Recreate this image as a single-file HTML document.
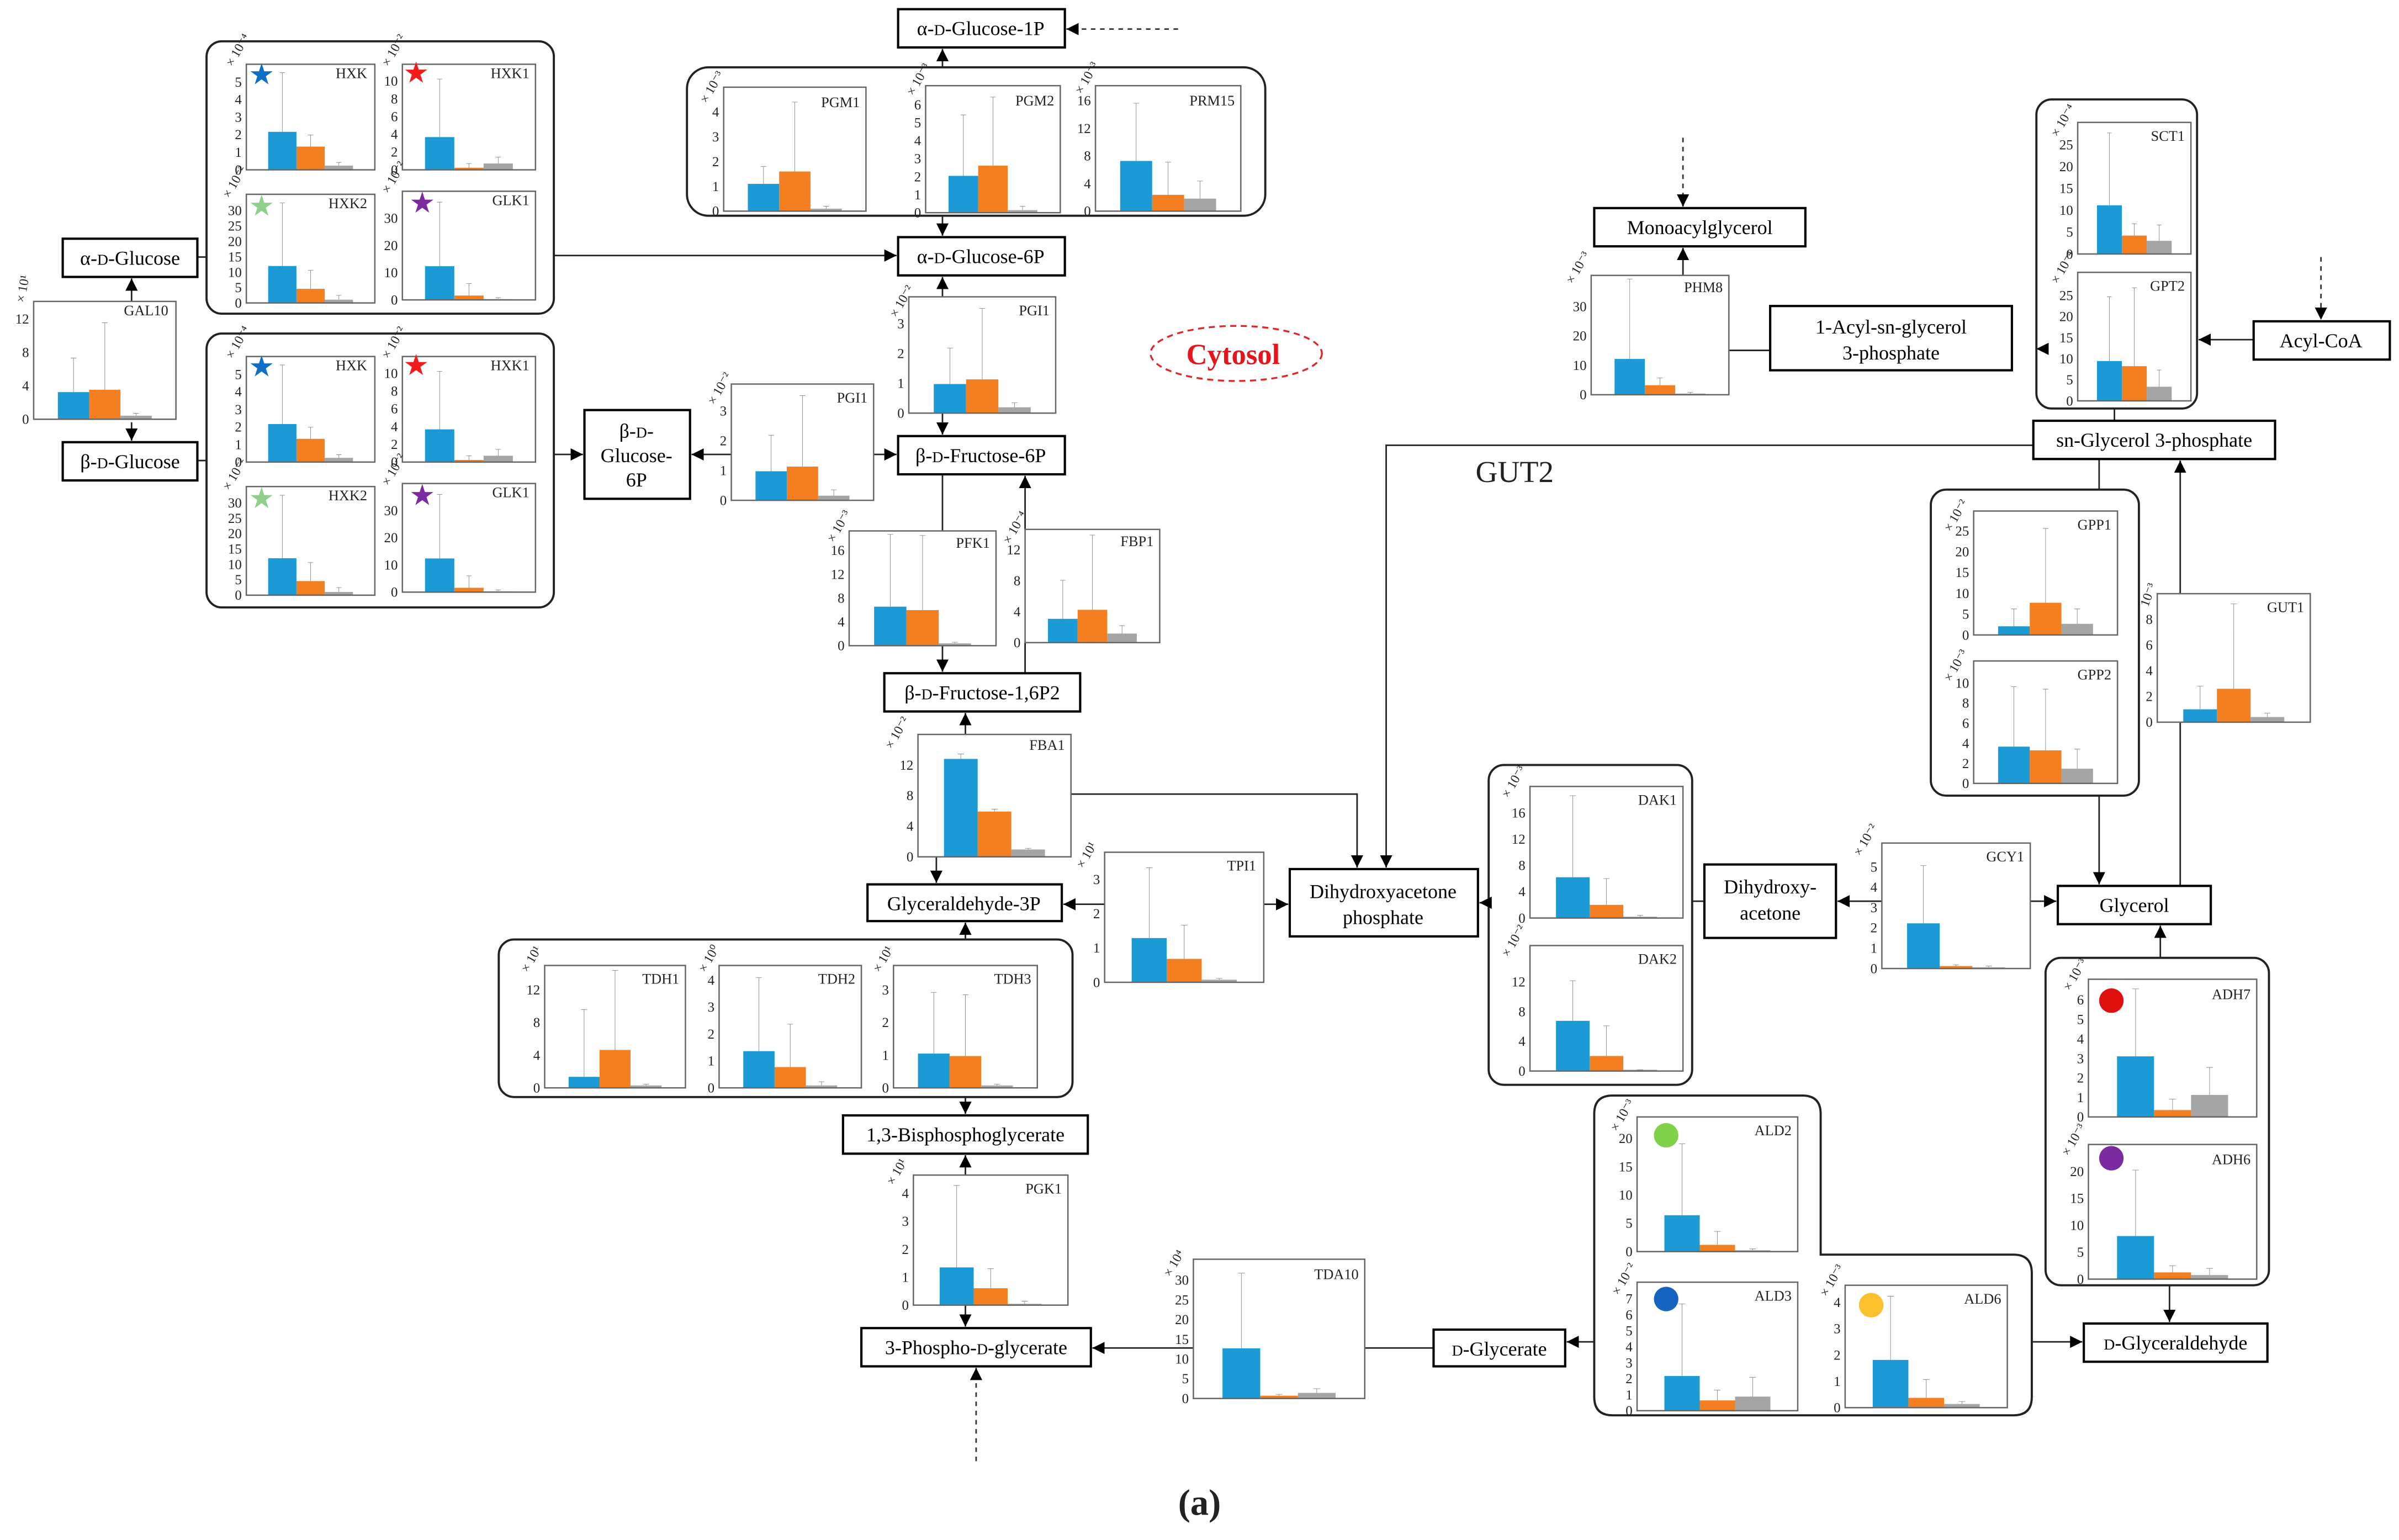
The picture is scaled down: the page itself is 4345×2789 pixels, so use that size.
<!DOCTYPE html>
<html><head><meta charset="utf-8"><style>
html,body{margin:0;padding:0;background:#fff}
svg{display:block}
text{font-family:"Liberation Serif","Times New Roman",serif;fill:#222}
.t{font-size:9px;text-anchor:end}
.n{font-size:9.5px;text-anchor:end}
.e{font-size:8.5px}
.bx{fill:#fff;stroke:#000;stroke-width:1.5}
.bt{font-family:"Liberation Serif","Times New Roman",serif;font-size:13px;text-anchor:middle;fill:#000}
.g{fill:none;stroke:#222;stroke-width:1.4}
.f{fill:none;stroke:#666;stroke-width:0.9}
.B{fill:#1c9ad6}.O{fill:#f47f20}.G{fill:#a5a5a5}
.er{stroke:#777;stroke-width:0.8;fill:none;vector-effect:non-scaling-stroke}
.l{stroke:#222;stroke-width:1;fill:none}
.d{stroke:#333;stroke-width:1;fill:none;stroke-dasharray:3,3}
</style></head><body>
<svg width="4345" height="2789" viewBox="0 0 1568 1006.5" preserveAspectRatio="none" xmlns="http://www.w3.org/2000/svg">
<defs><marker id="a" markerUnits="userSpaceOnUse" markerWidth="9" markerHeight="9" refX="8" refY="4.5" orient="auto"><path d="M0,0.5 L8,4.5 L0,8.5 Z" fill="#000"/></marker></defs>
<rect width="1568" height="1006.5" fill="#fff"/>

<rect class="g" x="135" y="27" width="227" height="178" rx="10"/>
<rect class="g" x="135" y="218" width="227" height="179" rx="10"/>
<rect class="g" x="449" y="44" width="378" height="97" rx="14"/>
<rect class="g" x="326" y="614" width="375" height="103" rx="10"/>
<rect class="g" x="973" y="500" width="133" height="209" rx="10"/>
<rect class="g" x="1262" y="320" width="136" height="200" rx="10"/>
<rect class="g" x="1331" y="65" width="105" height="202" rx="10"/>
<rect class="g" x="1337" y="626" width="146" height="214" rx="10"/>
<path class="g" d="M1054,716 H1178 Q1190,716 1190,728 V820 H1316 Q1328,820 1328,832 V913 Q1328,925 1316,925 H1054 Q1042,925 1042,913 V728 Q1042,716 1054,716 Z"/>

<g class="l">
<line x1="86" y1="197" x2="86" y2="182" marker-end="url(#a)"/>
<line x1="86" y1="276" x2="86" y2="288" marker-end="url(#a)"/>
<line x1="129" y1="168" x2="135" y2="168"/><line x1="129" y1="301" x2="135" y2="301"/>
<line x1="362" y1="167" x2="586" y2="167" marker-end="url(#a)"/>
<line x1="362" y1="297" x2="381" y2="297" marker-end="url(#a)"/>
<line x1="478" y1="297" x2="452" y2="297" marker-end="url(#a)"/>
<line x1="571" y1="297" x2="586" y2="297" marker-end="url(#a)"/>
<line x1="616" y1="44" x2="616" y2="32" marker-end="url(#a)"/>
<line x1="616" y1="141" x2="616" y2="154" marker-end="url(#a)"/>
<line x1="616" y1="194" x2="616" y2="181" marker-end="url(#a)"/>
<line x1="616" y1="270" x2="616" y2="284" marker-end="url(#a)"/>
<line x1="616" y1="310" x2="616" y2="347"/>
<line x1="616" y1="422" x2="616" y2="439" marker-end="url(#a)"/>
<line x1="670" y1="440" x2="670" y2="420"/>
<line x1="670" y1="346" x2="670" y2="311" marker-end="url(#a)"/>
<line x1="631" y1="480" x2="631" y2="466" marker-end="url(#a)"/>
<line x1="612" y1="560" x2="612" y2="577" marker-end="url(#a)"/>
<polyline points="700,519 887,519 887,567" marker-end="url(#a)"/>
<line x1="722" y1="591" x2="695" y2="591" marker-end="url(#a)"/>
<line x1="826" y1="591" x2="842" y2="591" marker-end="url(#a)"/>
<line x1="631" y1="614" x2="631" y2="603" marker-end="url(#a)"/>
<line x1="631" y1="717" x2="631" y2="728" marker-end="url(#a)"/>
<line x1="631" y1="768" x2="631" y2="755" marker-end="url(#a)"/>
<line x1="631" y1="853" x2="631" y2="867" marker-end="url(#a)"/>
<line x1="937" y1="881" x2="892" y2="881"/>
<line x1="780" y1="881" x2="714" y2="881" marker-end="url(#a)"/>
<line x1="1042" y1="877" x2="1024" y2="877" marker-end="url(#a)"/>
<line x1="1328" y1="877" x2="1361" y2="877" marker-end="url(#a)"/>
<line x1="1412" y1="626" x2="1412" y2="605" marker-end="url(#a)"/>
<line x1="1418" y1="840" x2="1418" y2="864" marker-end="url(#a)"/>
<line x1="1230" y1="589" x2="1201" y2="589" marker-end="url(#a)"/>
<line x1="1327" y1="589" x2="1344" y2="589" marker-end="url(#a)"/>
<line x1="973" y1="590" x2="967" y2="590" marker-end="url(#a)"/>
<line x1="1114" y1="589" x2="1106" y2="589"/>
<line x1="1372" y1="320" x2="1372" y2="300"/>
<line x1="1372" y1="520" x2="1372" y2="578" marker-end="url(#a)"/>
<line x1="1425" y1="579" x2="1425" y2="472"/>
<line x1="1425" y1="388" x2="1425" y2="301" marker-end="url(#a)"/>
<polyline points="1329,291 906,291 906,567" marker-end="url(#a)"/>
<line x1="1382" y1="267" x2="1382" y2="275"/>
<line x1="1473" y1="222" x2="1437" y2="222" marker-end="url(#a)"/>
<line x1="1130" y1="229" x2="1157" y2="229"/>
<line x1="1336" y1="228" x2="1331" y2="228" marker-end="url(#a)"/>
<line x1="1100" y1="180" x2="1100" y2="162" marker-end="url(#a)"/>
</g>
<line class="d" x1="770" y1="19" x2="697" y2="19" marker-end="url(#a)"/>
<line class="d" x1="638" y1="955" x2="638" y2="894" marker-end="url(#a)"/>
<line class="d" x1="1517" y1="168" x2="1517" y2="209" marker-end="url(#a)"/>
<line class="d" x1="1100" y1="90" x2="1100" y2="135" marker-end="url(#a)"/>

<rect class="bx" x="41" y="156" width="88" height="25"/><text class="bt" x="85" y="173">α-<tspan font-size="10">D</tspan>-Glucose</text>
<rect class="bx" x="41" y="289" width="88" height="25"/><text class="bt" x="85" y="306">β-<tspan font-size="10">D</tspan>-Glucose</text>
<rect class="bx" x="382" y="268" width="69" height="58"/><text class="bt" x="416" y="286">β-<tspan font-size="10">D</tspan>-</text><text class="bt" x="416" y="302">Glucose-</text><text class="bt" x="416" y="318">6P</text>
<rect class="bx" x="587" y="6" width="109" height="25"/><text class="bt" x="641" y="23">α-<tspan font-size="10">D</tspan>-Glucose-1P</text>
<rect class="bx" x="587" y="155" width="109" height="25"/><text class="bt" x="641" y="172">α-<tspan font-size="10">D</tspan>-Glucose-6P</text>
<rect class="bx" x="587" y="285" width="109" height="25"/><text class="bt" x="641" y="302">β-<tspan font-size="10">D</tspan>-Fructose-6P</text>
<rect class="bx" x="578" y="440" width="128" height="25"/><text class="bt" x="642" y="457">β-<tspan font-size="10">D</tspan>-Fructose-1,6P2</text>
<rect class="bx" x="567" y="578" width="127" height="24"/><text class="bt" x="630" y="595">Glyceraldehyde-3P</text>
<rect class="bx" x="551" y="729" width="160" height="25"/><text class="bt" x="631" y="746">1,3-Bisphosphoglycerate</text>
<rect class="bx" x="563" y="868" width="150" height="25"/><text class="bt" x="638" y="885">3-Phospho-<tspan font-size="10">D</tspan>-glycerate</text>
<rect class="bx" x="937" y="869" width="86" height="24"/><text class="bt" x="980" y="886"><tspan font-size="10">D</tspan>-Glycerate</text>
<rect class="bx" x="843" y="568" width="123" height="44"/><text class="bt" x="904" y="587">Dihydroxyacetone</text><text class="bt" x="904" y="604">phosphate</text>
<rect class="bx" x="1114" y="565" width="86" height="48"/><text class="bt" x="1157" y="584">Dihydroxy-</text><text class="bt" x="1157" y="601">acetone</text>
<rect class="bx" x="1345" y="579" width="100" height="25"/><text class="bt" x="1395" y="596">Glycerol</text>
<rect class="bx" x="1362" y="865" width="120" height="25"/><text class="bt" x="1422" y="882"><tspan font-size="10">D</tspan>-Glyceraldehyde</text>
<rect class="bx" x="1329" y="275" width="158" height="25"/><text class="bt" x="1408" y="292">sn-Glycerol 3-phosphate</text>
<rect class="bx" x="1473" y="210" width="89" height="25"/><text class="bt" x="1517" y="227">Acyl-CoA</text>
<rect class="bx" x="1157" y="200" width="158" height="42"/><text class="bt" x="1236" y="218">1-Acyl-sn-glycerol</text><text class="bt" x="1236" y="235">3-phosphate</text>
<rect class="bx" x="1042" y="136" width="138" height="25"/><text class="bt" x="1111" y="153">Monoacylglycerol</text>
<text x="990" y="315" font-size="20" text-anchor="middle" fill="#000">GUT2</text>
<ellipse cx="808" cy="231" rx="56" ry="18" fill="none" stroke="#e0262b" stroke-width="1.2" stroke-dasharray="4,3"/>
<text x="806" y="238" font-size="19" font-weight="bold" text-anchor="middle" style="fill:#e8141b">Cytosol</text>
<text x="784" y="990" font-size="24" font-weight="bold" text-anchor="middle" fill="#000">(a)</text>

<svg x="161" y="42" width="84" height="69" viewBox="0 0 100 100" preserveAspectRatio="none"><rect class="B" x="17" y="64" width="22" height="36"/><rect class="O" x="39" y="78" width="22" height="22"/><rect class="G" x="61" y="96" width="22" height="4"/><path class="er" d="M28 64V8M26 8H30M50 78V67M48 67H52M72 96V93M70 93H74"/></svg>
<rect class="f" x="161" y="42" width="84" height="69"/><text class="n" x="240" y="51">HXK</text>
<g><text class="t" x="158" y="114">0</text><text class="t" x="158" y="102.5">1</text><text class="t" x="158" y="91">2</text><text class="t" x="158" y="79.6">3</text><text class="t" x="158" y="68">4</text><text class="t" x="158" y="56.7">5</text></g>
<text class="e" transform="translate(152,44) rotate(-60)">× 10⁻⁴</text>
<text x="171" y="55" font-size="19" text-anchor="middle" style="fill:#0f6fc6">★</text>

<svg x="263" y="42" width="87" height="69" viewBox="0 0 100 100" preserveAspectRatio="none"><rect class="B" x="17" y="69" width="22" height="31"/><rect class="O" x="39" y="98" width="22" height="2"/><rect class="G" x="61" y="94" width="22" height="6"/><path class="er" d="M28 69V14M26 14H30M50 98V94M48 94H52M72 94V88M70 88H74"/></svg>
<rect class="f" x="263" y="42" width="87" height="69"/><text class="n" x="346" y="51">HXK1</text>
<g><text class="t" x="260" y="114">0</text><text class="t" x="260" y="102.4">2</text><text class="t" x="260" y="90.8">4</text><text class="t" x="260" y="79.2">6</text><text class="t" x="260" y="67.6">8</text><text class="t" x="260" y="56">10</text></g>
<text class="e" transform="translate(254,44) rotate(-60)">× 10⁻²</text>
<text x="272" y="54" font-size="19" text-anchor="middle" style="fill:#f51b1b">★</text>

<svg x="161" y="127" width="84" height="71" viewBox="0 0 100 100" preserveAspectRatio="none"><rect class="B" x="17" y="66" width="22" height="34"/><rect class="O" x="39" y="87" width="22" height="13"/><rect class="G" x="61" y="97" width="22" height="3"/><path class="er" d="M28 66V8M26 8H30M50 87V70M48 70H52M72 97V93M70 93H74"/></svg>
<rect class="f" x="161" y="127" width="84" height="71"/><text class="n" x="240" y="136">HXK2</text>
<g><text class="t" x="158" y="201">0</text><text class="t" x="158" y="190.9">5</text><text class="t" x="158" y="180.9">10</text><text class="t" x="158" y="170.8">15</text><text class="t" x="158" y="160.7">20</text><text class="t" x="158" y="150.7">25</text><text class="t" x="158" y="140.6">30</text></g>
<text class="e" transform="translate(150,130) rotate(-60)">× 10⁻²</text>
<text x="171" y="141" font-size="19" text-anchor="middle" style="fill:#8fd18a">★</text>

<svg x="263" y="125" width="87" height="71" viewBox="0 0 100 100" preserveAspectRatio="none"><rect class="B" x="17" y="69" width="22" height="31"/><rect class="O" x="39" y="96" width="22" height="4"/><rect class="G" x="61" y="99.3" width="22" height="0.7"/><path class="er" d="M28 69V10M26 10H30M50 96V85M48 85H52M72 99V98M70 98H74"/></svg>
<rect class="f" x="263" y="125" width="87" height="71"/><text class="n" x="346" y="134">GLK1</text>
<g><text class="t" x="260" y="199">0</text><text class="t" x="260" y="181.2">10</text><text class="t" x="260" y="163.4">20</text><text class="t" x="260" y="145.7">30</text></g>
<text class="e" transform="translate(254,127) rotate(-60)">× 10⁻²</text>
<text x="276" y="139" font-size="19" text-anchor="middle" style="fill:#7b2aa0">★</text>

<g transform="translate(0,191)">
<svg x="161" y="42" width="84" height="69" viewBox="0 0 100 100" preserveAspectRatio="none"><rect class="B" x="17" y="64" width="22" height="36"/><rect class="O" x="39" y="78" width="22" height="22"/><rect class="G" x="61" y="96" width="22" height="4"/><path class="er" d="M28 64V8M26 8H30M50 78V67M48 67H52M72 96V93M70 93H74"/></svg>
<rect class="f" x="161" y="42" width="84" height="69"/><text class="n" x="240" y="51">HXK</text>
<g><text class="t" x="158" y="114">0</text><text class="t" x="158" y="102.5">1</text><text class="t" x="158" y="91">2</text><text class="t" x="158" y="79.6">3</text><text class="t" x="158" y="68">4</text><text class="t" x="158" y="56.7">5</text></g>
<text class="e" transform="translate(152,44) rotate(-60)">× 10⁻⁴</text>
<text x="171" y="55" font-size="19" text-anchor="middle" style="fill:#0f6fc6">★</text>
<svg x="263" y="42" width="87" height="69" viewBox="0 0 100 100" preserveAspectRatio="none"><rect class="B" x="17" y="69" width="22" height="31"/><rect class="O" x="39" y="98" width="22" height="2"/><rect class="G" x="61" y="94" width="22" height="6"/><path class="er" d="M28 69V14M26 14H30M50 98V94M48 94H52M72 94V88M70 88H74"/></svg>
<rect class="f" x="263" y="42" width="87" height="69"/><text class="n" x="346" y="51">HXK1</text>
<g><text class="t" x="260" y="114">0</text><text class="t" x="260" y="102.4">2</text><text class="t" x="260" y="90.8">4</text><text class="t" x="260" y="79.2">6</text><text class="t" x="260" y="67.6">8</text><text class="t" x="260" y="56">10</text></g>
<text class="e" transform="translate(254,44) rotate(-60)">× 10⁻²</text>
<text x="272" y="54" font-size="19" text-anchor="middle" style="fill:#f51b1b">★</text>
<svg x="161" y="127" width="84" height="71" viewBox="0 0 100 100" preserveAspectRatio="none"><rect class="B" x="17" y="66" width="22" height="34"/><rect class="O" x="39" y="87" width="22" height="13"/><rect class="G" x="61" y="97" width="22" height="3"/><path class="er" d="M28 66V8M26 8H30M50 87V70M48 70H52M72 97V93M70 93H74"/></svg>
<rect class="f" x="161" y="127" width="84" height="71"/><text class="n" x="240" y="136">HXK2</text>
<g><text class="t" x="158" y="201">0</text><text class="t" x="158" y="190.9">5</text><text class="t" x="158" y="180.9">10</text><text class="t" x="158" y="170.8">15</text><text class="t" x="158" y="160.7">20</text><text class="t" x="158" y="150.7">25</text><text class="t" x="158" y="140.6">30</text></g>
<text class="e" transform="translate(150,130) rotate(-60)">× 10⁻²</text>
<text x="171" y="141" font-size="19" text-anchor="middle" style="fill:#8fd18a">★</text>
<svg x="263" y="125" width="87" height="71" viewBox="0 0 100 100" preserveAspectRatio="none"><rect class="B" x="17" y="69" width="22" height="31"/><rect class="O" x="39" y="96" width="22" height="4"/><rect class="G" x="61" y="99.3" width="22" height="0.7"/><path class="er" d="M28 69V10M26 10H30M50 96V85M48 85H52M72 99V98M70 98H74"/></svg>
<rect class="f" x="263" y="125" width="87" height="71"/><text class="n" x="346" y="134">GLK1</text>
<g><text class="t" x="260" y="199">0</text><text class="t" x="260" y="181.2">10</text><text class="t" x="260" y="163.4">20</text><text class="t" x="260" y="145.7">30</text></g>
<text class="e" transform="translate(254,127) rotate(-60)">× 10⁻²</text>
<text x="276" y="139" font-size="19" text-anchor="middle" style="fill:#7b2aa0">★</text>
</g>

<svg x="22" y="197" width="93" height="77" viewBox="0 0 100 100" preserveAspectRatio="none"><rect class="B" x="17" y="77" width="22" height="23"/><rect class="O" x="39" y="75" width="22" height="25"/><rect class="G" x="61" y="97" width="22" height="3"/><path class="er" d="M28 77V48M26 48H30M50 75V18M48 18H52M72 97V95M70 95H74"/></svg>
<rect class="f" x="22" y="197" width="93" height="77"/><text class="n" x="110" y="206">GAL10</text>
<g><text class="t" x="19" y="277">0</text><text class="t" x="19" y="255.2">4</text><text class="t" x="19" y="233.3">8</text><text class="t" x="19" y="211.5">12</text></g>
<text class="e" transform="translate(16,198) rotate(-80)">× 10¹</text>

<svg x="473" y="57" width="93" height="81" viewBox="0 0 100 100" preserveAspectRatio="none"><rect class="B" x="17" y="78" width="22" height="22"/><rect class="O" x="39" y="68" width="22" height="32"/><rect class="G" x="61" y="98" width="22" height="2"/><path class="er" d="M28 78V64M26 64H30M50 68V12M48 12H52M72 98V96M70 96H74"/></svg>
<rect class="f" x="473" y="57" width="93" height="81"/><text class="n" x="562" y="70">PGM1</text>
<g><text class="t" x="470" y="141">0</text><text class="t" x="470" y="124.8">1</text><text class="t" x="470" y="108.6">2</text><text class="t" x="470" y="92.4">3</text><text class="t" x="470" y="76.2">4</text></g>
<text class="e" transform="translate(462,68) rotate(-60)">× 10⁻³</text>
<svg x="605" y="56" width="88" height="83" viewBox="0 0 100 100" preserveAspectRatio="none"><rect class="B" x="17" y="71" width="22" height="29"/><rect class="O" x="39" y="63" width="22" height="37"/><rect class="G" x="61" y="98" width="22" height="2"/><path class="er" d="M28 71V23M26 23H30M50 63V9M48 9H52M72 98V95M70 95H74"/></svg>
<rect class="f" x="605" y="56" width="88" height="83"/><text class="n" x="689" y="69">PGM2</text>
<g><text class="t" x="602" y="142">0</text><text class="t" x="602" y="130.2">1</text><text class="t" x="602" y="118.5">2</text><text class="t" x="602" y="106.7">3</text><text class="t" x="602" y="94.9">4</text><text class="t" x="602" y="83.2">5</text><text class="t" x="602" y="71.4">6</text></g>
<text class="e" transform="translate(597,63) rotate(-60)">× 10⁻³</text>
<svg x="716" y="56" width="95" height="82" viewBox="0 0 100 100" preserveAspectRatio="none"><rect class="B" x="17" y="60" width="22" height="40"/><rect class="O" x="39" y="87" width="22" height="13"/><rect class="G" x="61" y="90" width="22" height="10"/><path class="er" d="M28 60V14M26 14H30M50 87V61M48 61H52M72 90V76M70 76H74"/></svg>
<rect class="f" x="716" y="56" width="95" height="82"/><text class="n" x="807" y="69">PRM15</text>
<g><text class="t" x="713" y="141">0</text><text class="t" x="713" y="123">4</text><text class="t" x="713" y="104.9">8</text><text class="t" x="713" y="86.9">12</text><text class="t" x="713" y="68.8">16</text></g>
<text class="e" transform="translate(707,62) rotate(-60)">× 10⁻³</text>

<svg x="594" y="194" width="96" height="76" viewBox="0 0 100 100" preserveAspectRatio="none"><rect class="B" x="17" y="75" width="22" height="25"/><rect class="O" x="39" y="71" width="22" height="29"/><rect class="G" x="61" y="95" width="22" height="5"/><path class="er" d="M28 75V44M26 44H30M50 71V10M48 10H52M72 95V91M70 91H74"/></svg>
<rect class="f" x="594" y="194" width="96" height="76"/><text class="n" x="686" y="206">PGI1</text>
<g><text class="t" x="591" y="273">0</text><text class="t" x="591" y="253.5">1</text><text class="t" x="591" y="234">2</text><text class="t" x="591" y="214.5">3</text></g>
<text class="e" transform="translate(586,208) rotate(-60)">× 10⁻²</text>
<svg x="478" y="251" width="93" height="76" viewBox="0 0 100 100" preserveAspectRatio="none"><rect class="B" x="17" y="75" width="22" height="25"/><rect class="O" x="39" y="71" width="22" height="29"/><rect class="G" x="61" y="96" width="22" height="4"/><path class="er" d="M28 75V44M26 44H30M50 71V10M48 10H52M72 96V91M70 91H74"/></svg>
<rect class="f" x="478" y="251" width="93" height="76"/><text class="n" x="567" y="263">PGI1</text>
<g><text class="t" x="475" y="330">0</text><text class="t" x="475" y="310.5">1</text><text class="t" x="475" y="291">2</text><text class="t" x="475" y="271.5">3</text></g>
<text class="e" transform="translate(467,265) rotate(-60)">× 10⁻²</text>

<svg x="555" y="347" width="96" height="75" viewBox="0 0 100 100" preserveAspectRatio="none"><rect class="B" x="17" y="66" width="22" height="34"/><rect class="O" x="39" y="69" width="22" height="31"/><rect class="G" x="61" y="98" width="22" height="2"/><path class="er" d="M28 66V3M26 3H30M50 69V4M48 4H52M72 98V97M70 97H74"/></svg>
<rect class="f" x="555" y="347" width="96" height="75"/><text class="n" x="647" y="358">PFK1</text>
<g><text class="t" x="552" y="425">0</text><text class="t" x="552" y="409.4">4</text><text class="t" x="552" y="393.9">8</text><text class="t" x="552" y="378.3">12</text><text class="t" x="552" y="362.7">16</text></g>
<text class="e" transform="translate(545,355) rotate(-60)">× 10⁻³</text>
<svg x="670" y="346" width="88" height="74" viewBox="0 0 100 100" preserveAspectRatio="none"><rect class="B" x="17" y="79" width="22" height="21"/><rect class="O" x="39" y="71" width="22" height="29"/><rect class="G" x="61" y="92" width="22" height="8"/><path class="er" d="M28 79V45M26 45H30M50 71V5M48 5H52M72 92V85M70 85H74"/></svg>
<rect class="f" x="670" y="346" width="88" height="74"/><text class="n" x="754" y="357">FBP1</text>
<g><text class="t" x="667" y="423">0</text><text class="t" x="667" y="402.8">4</text><text class="t" x="667" y="382.6">8</text><text class="t" x="667" y="362.3">12</text></g>
<text class="e" transform="translate(660,356) rotate(-60)">× 10⁻⁴</text>

<svg x="600" y="480" width="100" height="80" viewBox="0 0 100 100" preserveAspectRatio="none"><rect class="B" x="17" y="20" width="22" height="80"/><rect class="O" x="39" y="63" width="22" height="37"/><rect class="G" x="61" y="94" width="22" height="6"/><path class="er" d="M28 20V16M26 16H30M50 63V61M48 61H52M72 94V93M70 93H74"/></svg>
<rect class="f" x="600" y="480" width="100" height="80"/><text class="n" x="696" y="490">FBA1</text>
<g><text class="t" x="597" y="563">0</text><text class="t" x="597" y="543">4</text><text class="t" x="597" y="523">8</text><text class="t" x="597" y="503">12</text></g>
<text class="e" transform="translate(583,490) rotate(-60)">× 10⁻²</text>

<svg x="722" y="557" width="104" height="85" viewBox="0 0 100 100" preserveAspectRatio="none"><rect class="B" x="17" y="66" width="22" height="34"/><rect class="O" x="39" y="82" width="22" height="18"/><rect class="G" x="61" y="98" width="22" height="2"/><path class="er" d="M28 66V12M26 12H30M50 82V56M48 56H52M72 98V97M70 97H74"/></svg>
<rect class="f" x="722" y="557" width="104" height="85"/><text class="n" x="821" y="569">TPI1</text>
<g><text class="t" x="719" y="645">0</text><text class="t" x="719" y="622.6">1</text><text class="t" x="719" y="600.2">2</text><text class="t" x="719" y="577.8">3</text></g>
<text class="e" transform="translate(708,568) rotate(-60)">× 10¹</text>

<svg x="356" y="631" width="92" height="80" viewBox="0 0 100 100" preserveAspectRatio="none"><rect class="B" x="17" y="91" width="22" height="9"/><rect class="O" x="39" y="69" width="22" height="31"/><rect class="G" x="61" y="98" width="22" height="2"/><path class="er" d="M28 91V36M26 36H30M50 69V4M48 4H52M72 98V97M70 97H74"/></svg>
<rect class="f" x="356" y="631" width="92" height="80"/><text class="n" x="444" y="643">TDH1</text>
<g><text class="t" x="353" y="714">0</text><text class="t" x="353" y="692.7">4</text><text class="t" x="353" y="671.3">8</text><text class="t" x="353" y="650">12</text></g>
<text class="e" transform="translate(345,636) rotate(-60)">× 10¹</text>
<svg x="470" y="631" width="93" height="80" viewBox="0 0 100 100" preserveAspectRatio="none"><rect class="B" x="17" y="70" width="22" height="30"/><rect class="O" x="39" y="83" width="22" height="17"/><rect class="G" x="61" y="98" width="22" height="2"/><path class="er" d="M28 70V10M26 10H30M50 83V48M48 48H52M72 98V95M70 95H74"/></svg>
<rect class="f" x="470" y="631" width="93" height="80"/><text class="n" x="559" y="643">TDH2</text>
<g><text class="t" x="467" y="714">0</text><text class="t" x="467" y="696.4">1</text><text class="t" x="467" y="678.8">2</text><text class="t" x="467" y="661.2">3</text><text class="t" x="467" y="643.6">4</text></g>
<text class="e" transform="translate(461,636) rotate(-60)">× 10⁰</text>
<svg x="584" y="631" width="94" height="80" viewBox="0 0 100 100" preserveAspectRatio="none"><rect class="B" x="17" y="72" width="22" height="28"/><rect class="O" x="39" y="74" width="22" height="26"/><rect class="G" x="61" y="98" width="22" height="2"/><path class="er" d="M28 72V22M26 22H30M50 74V24M48 24H52M72 98V97M70 97H74"/></svg>
<rect class="f" x="584" y="631" width="94" height="80"/><text class="n" x="674" y="643">TDH3</text>
<g><text class="t" x="581" y="714">0</text><text class="t" x="581" y="692.7">1</text><text class="t" x="581" y="671.3">2</text><text class="t" x="581" y="650">3</text></g>
<text class="e" transform="translate(575,636) rotate(-60)">× 10¹</text>

<svg x="597" y="768" width="101" height="85" viewBox="0 0 100 100" preserveAspectRatio="none"><rect class="B" x="17" y="71" width="22" height="29"/><rect class="O" x="39" y="87" width="22" height="13"/><rect class="G" x="61" y="99" width="22" height="1"/><path class="er" d="M28 71V8M26 8H30M50 87V72M48 72H52M72 99V97M70 97H74"/></svg>
<rect class="f" x="597" y="768" width="101" height="85"/><text class="n" x="694" y="780">PGK1</text>
<g><text class="t" x="594" y="856">0</text><text class="t" x="594" y="837.7">1</text><text class="t" x="594" y="819.5">2</text><text class="t" x="594" y="801.2">3</text><text class="t" x="594" y="782.9">4</text></g>
<text class="e" transform="translate(584,775) rotate(-60)">× 10¹</text>

<svg x="780" y="823" width="112" height="91" viewBox="0 0 100 100" preserveAspectRatio="none"><rect class="B" x="17" y="64" width="22" height="36"/><rect class="O" x="39" y="98" width="22" height="2"/><rect class="G" x="61" y="96" width="22" height="4"/><path class="er" d="M28 64V10M26 10H30M50 98V97M48 97H52M72 96V93M70 93H74"/></svg>
<rect class="f" x="780" y="823" width="112" height="91"/><text class="n" x="888" y="836">TDA10</text>
<g><text class="t" x="777" y="917">0</text><text class="t" x="777" y="904.1">5</text><text class="t" x="777" y="891.2">10</text><text class="t" x="777" y="878.3">15</text><text class="t" x="777" y="865.4">20</text><text class="t" x="777" y="852.5">25</text><text class="t" x="777" y="839.6">30</text></g>
<text class="e" transform="translate(765,835) rotate(-60)">× 10⁴</text>

<svg x="1000" y="514" width="100" height="86" viewBox="0 0 100 100" preserveAspectRatio="none"><rect class="B" x="17" y="69" width="22" height="31"/><rect class="O" x="39" y="90" width="22" height="10"/><rect class="G" x="61" y="99" width="22" height="1"/><path class="er" d="M28 69V7M26 7H30M50 90V70M48 70H52M72 99V98M70 98H74"/></svg>
<rect class="f" x="1000" y="514" width="100" height="86"/><text class="n" x="1096" y="526">DAK1</text>
<g><text class="t" x="997" y="603">0</text><text class="t" x="997" y="585.8">4</text><text class="t" x="997" y="568.6">8</text><text class="t" x="997" y="551.4">12</text><text class="t" x="997" y="534.2">16</text></g>
<text class="e" transform="translate(986,522) rotate(-60)">× 10⁻³</text>
<svg x="1000" y="618" width="100" height="82" viewBox="0 0 100 100" preserveAspectRatio="none"><rect class="B" x="17" y="60" width="22" height="40"/><rect class="O" x="39" y="88" width="22" height="12"/><rect class="G" x="61" y="99" width="22" height="1"/><path class="er" d="M28 60V28M26 28H30M50 88V64M48 64H52M72 99V99M70 99H74"/></svg>
<rect class="f" x="1000" y="618" width="100" height="82"/><text class="n" x="1096" y="630">DAK2</text>
<g><text class="t" x="997" y="703">0</text><text class="t" x="997" y="683.6">4</text><text class="t" x="997" y="664.2">8</text><text class="t" x="997" y="644.8">12</text></g>
<text class="e" transform="translate(986,626) rotate(-60)">× 10⁻²</text>

<svg x="1230" y="551" width="97" height="82" viewBox="0 0 100 100" preserveAspectRatio="none"><rect class="B" x="17" y="64" width="22" height="36"/><rect class="O" x="39" y="98" width="22" height="2"/><rect class="G" x="61" y="99" width="22" height="1"/><path class="er" d="M28 64V18M26 18H30M50 98V97M48 97H52M72 99V98M70 98H74"/></svg>
<rect class="f" x="1230" y="551" width="97" height="82"/><text class="n" x="1323" y="563">GCY1</text>
<g><text class="t" x="1227" y="636">0</text><text class="t" x="1227" y="622.7">1</text><text class="t" x="1227" y="609.4">2</text><text class="t" x="1227" y="596.2">3</text><text class="t" x="1227" y="582.9">4</text><text class="t" x="1227" y="569.6">5</text></g>
<text class="e" transform="translate(1216,560) rotate(-60)">× 10⁻²</text>

<svg x="1070" y="730" width="105" height="88" viewBox="0 0 100 100" preserveAspectRatio="none"><rect class="B" x="17" y="73" width="22" height="27"/><rect class="O" x="39" y="95" width="22" height="5"/><rect class="G" x="61" y="99" width="22" height="1"/><path class="er" d="M28 73V20M26 20H30M50 95V85M48 85H52M72 99V98M70 98H74"/></svg>
<rect class="f" x="1070" y="730" width="105" height="88"/><text class="n" x="1171" y="742">ALD2</text>
<g><text class="t" x="1067" y="821">0</text><text class="t" x="1067" y="802.5">5</text><text class="t" x="1067" y="784">10</text><text class="t" x="1067" y="765.6">15</text><text class="t" x="1067" y="747.1">20</text></g>
<text class="e" transform="translate(1057,740) rotate(-60)">× 10⁻³</text>
<circle cx="1089" cy="742" r="8" fill="#7fd24a"/>
<svg x="1070" y="838" width="105" height="84" viewBox="0 0 100 100" preserveAspectRatio="none"><rect class="B" x="17" y="73" width="22" height="27"/><rect class="O" x="39" y="92" width="22" height="8"/><rect class="G" x="61" y="89" width="22" height="11"/><path class="er" d="M28 73V17M26 17H30M50 92V84M48 84H52M72 89V74M70 74H74"/></svg>
<rect class="f" x="1070" y="838" width="105" height="84"/><text class="n" x="1171" y="850">ALD3</text>
<g><text class="t" x="1067" y="925">0</text><text class="t" x="1067" y="914.6">1</text><text class="t" x="1067" y="904.1">2</text><text class="t" x="1067" y="893.7">3</text><text class="t" x="1067" y="883.2">4</text><text class="t" x="1067" y="872.8">5</text><text class="t" x="1067" y="862.3">6</text><text class="t" x="1067" y="851.9">7</text></g>
<text class="e" transform="translate(1058,847) rotate(-60)">× 10⁻²</text>
<circle cx="1089" cy="849" r="8" fill="#1565c0"/>
<svg x="1206" y="840" width="106" height="80" viewBox="0 0 100 100" preserveAspectRatio="none"><rect class="B" x="17" y="61" width="22" height="39"/><rect class="O" x="39" y="92" width="22" height="8"/><rect class="G" x="61" y="97" width="22" height="3"/><path class="er" d="M28 61V9M26 9H30M50 92V77M48 77H52M72 97V95M70 95H74"/></svg>
<rect class="f" x="1206" y="840" width="106" height="80"/><text class="n" x="1308" y="852">ALD6</text>
<g><text class="t" x="1203" y="923">0</text><text class="t" x="1203" y="905.8">1</text><text class="t" x="1203" y="888.6">2</text><text class="t" x="1203" y="871.4">3</text><text class="t" x="1203" y="854.2">4</text></g>
<text class="e" transform="translate(1194,848) rotate(-60)">× 10⁻³</text>
<circle cx="1223" cy="853" r="8" fill="#fbc02d"/>

<svg x="1365" y="640" width="110" height="90" viewBox="0 0 100 100" preserveAspectRatio="none"><rect class="B" x="17" y="56" width="22" height="44"/><rect class="O" x="39" y="95" width="22" height="5"/><rect class="G" x="61" y="84" width="22" height="16"/><path class="er" d="M28 56V7M26 7H30M50 95V87M48 87H52M72 84V64M70 64H74"/></svg>
<rect class="f" x="1365" y="640" width="110" height="90"/><text class="n" x="1471" y="653">ADH7</text>
<g><text class="t" x="1362" y="733">0</text><text class="t" x="1362" y="720.3">1</text><text class="t" x="1362" y="707.5">2</text><text class="t" x="1362" y="694.8">3</text><text class="t" x="1362" y="682">4</text><text class="t" x="1362" y="669.3">5</text><text class="t" x="1362" y="656.5">6</text></g>
<text class="e" transform="translate(1353,648) rotate(-60)">× 10⁻³</text>
<circle cx="1380" cy="654" r="8" fill="#e01010"/>
<svg x="1365" y="748" width="110" height="88" viewBox="0 0 100 100" preserveAspectRatio="none"><rect class="B" x="17" y="68" width="22" height="32"/><rect class="O" x="39" y="95" width="22" height="5"/><rect class="G" x="61" y="97" width="22" height="3"/><path class="er" d="M28 68V19M26 19H30M50 95V90M48 90H52M72 97V92M70 92H74"/></svg>
<rect class="f" x="1365" y="748" width="110" height="88"/><text class="n" x="1471" y="761">ADH6</text>
<g><text class="t" x="1362" y="839">0</text><text class="t" x="1362" y="821.4">5</text><text class="t" x="1362" y="803.8">10</text><text class="t" x="1362" y="786.2">15</text><text class="t" x="1362" y="768.6">20</text></g>
<text class="e" transform="translate(1352,756) rotate(-60)">× 10⁻³</text>
<circle cx="1380" cy="757" r="8" fill="#7b2aa0"/>

<svg x="1290" y="334" width="94" height="81" viewBox="0 0 100 100" preserveAspectRatio="none"><rect class="B" x="17" y="93" width="22" height="7"/><rect class="O" x="39" y="74" width="22" height="26"/><rect class="G" x="61" y="91" width="22" height="9"/><path class="er" d="M28 93V79M26 79H30M50 74V14M48 14H52M72 91V79M70 79H74"/></svg>
<rect class="f" x="1290" y="334" width="94" height="81"/><text class="n" x="1380" y="346">GPP1</text>
<g><text class="t" x="1287" y="418">0</text><text class="t" x="1287" y="404.4">5</text><text class="t" x="1287" y="390.8">10</text><text class="t" x="1287" y="377.2">15</text><text class="t" x="1287" y="363.6">20</text><text class="t" x="1287" y="350">25</text></g>
<text class="e" transform="translate(1275,348) rotate(-60)">× 10⁻²</text>
<svg x="1290" y="432" width="94" height="80" viewBox="0 0 100 100" preserveAspectRatio="none"><rect class="B" x="17" y="70" width="22" height="30"/><rect class="O" x="39" y="73" width="22" height="27"/><rect class="G" x="61" y="88" width="22" height="12"/><path class="er" d="M28 70V21M26 21H30M50 73V23M48 23H52M72 88V72M70 72H74"/></svg>
<rect class="f" x="1290" y="432" width="94" height="80"/><text class="n" x="1380" y="444">GPP2</text>
<g><text class="t" x="1287" y="515">0</text><text class="t" x="1287" y="501.9">2</text><text class="t" x="1287" y="488.8">4</text><text class="t" x="1287" y="475.6">6</text><text class="t" x="1287" y="462.5">8</text><text class="t" x="1287" y="449.4">10</text></g>
<text class="e" transform="translate(1275,446) rotate(-60)">× 10⁻³</text>

<svg x="1410" y="388" width="100" height="84" viewBox="0 0 100 100" preserveAspectRatio="none"><rect class="B" x="17" y="90" width="22" height="10"/><rect class="O" x="39" y="74" width="22" height="26"/><rect class="G" x="61" y="96" width="22" height="4"/><path class="er" d="M28 90V72M26 72H30M50 74V8M48 8H52M72 96V93M70 93H74"/></svg>
<rect class="f" x="1410" y="388" width="100" height="84"/><text class="n" x="1506" y="400">GUT1</text>
<g><text class="t" x="1407" y="475">0</text><text class="t" x="1407" y="458.2">2</text><text class="t" x="1407" y="441.4">4</text><text class="t" x="1407" y="424.6">6</text><text class="t" x="1407" y="407.8">8</text></g>
<text class="e" transform="translate(1404,397) rotate(-70)">10⁻³</text>

<svg x="1358" y="80" width="74" height="86" viewBox="0 0 100 100" preserveAspectRatio="none"><rect class="B" x="17" y="63" width="22" height="37"/><rect class="O" x="39" y="86" width="22" height="14"/><rect class="G" x="61" y="90" width="22" height="10"/><path class="er" d="M28 63V8M26 8H30M50 86V77M48 77H52M72 90V78M70 78H74"/></svg>
<rect class="f" x="1358" y="80" width="74" height="86"/><text class="n" x="1428" y="92">SCT1</text>
<g><text class="t" x="1355" y="169">0</text><text class="t" x="1355" y="154.7">5</text><text class="t" x="1355" y="140.4">10</text><text class="t" x="1355" y="126.2">15</text><text class="t" x="1355" y="111.9">20</text><text class="t" x="1355" y="97.6">25</text></g>
<text class="e" transform="translate(1345,90) rotate(-60)">× 10⁻⁴</text>
<svg x="1358" y="178" width="74" height="84" viewBox="0 0 100 100" preserveAspectRatio="none"><rect class="B" x="17" y="69" width="22" height="31"/><rect class="O" x="39" y="73" width="22" height="27"/><rect class="G" x="61" y="89" width="22" height="11"/><path class="er" d="M28 69V19M26 19H30M50 73V12M48 12H52M72 89V76M70 76H74"/></svg>
<rect class="f" x="1358" y="178" width="74" height="84"/><text class="n" x="1428" y="190">GPT2</text>
<g><text class="t" x="1355" y="265">0</text><text class="t" x="1355" y="251.2">5</text><text class="t" x="1355" y="237.4">10</text><text class="t" x="1355" y="223.7">15</text><text class="t" x="1355" y="209.9">20</text><text class="t" x="1355" y="196.1">25</text></g>
<text class="e" transform="translate(1345,186) rotate(-60)">× 10⁻⁴</text>

<svg x="1040" y="180" width="90" height="78" viewBox="0 0 100 100" preserveAspectRatio="none"><rect class="B" x="17" y="70" width="22" height="30"/><rect class="O" x="39" y="92" width="22" height="8"/><rect class="G" x="61" y="99" width="22" height="1"/><path class="er" d="M28 70V3M26 3H30M50 92V86M48 86H52M72 99V98M70 98H74"/></svg>
<rect class="f" x="1040" y="180" width="90" height="78"/><text class="n" x="1126" y="191">PHM8</text>
<g><text class="t" x="1037" y="261">0</text><text class="t" x="1037" y="241.8">10</text><text class="t" x="1037" y="222.5">20</text><text class="t" x="1037" y="203.3">30</text></g>
<text class="e" transform="translate(1028,186) rotate(-60)">× 10⁻³</text>
</svg>
</body></html>
